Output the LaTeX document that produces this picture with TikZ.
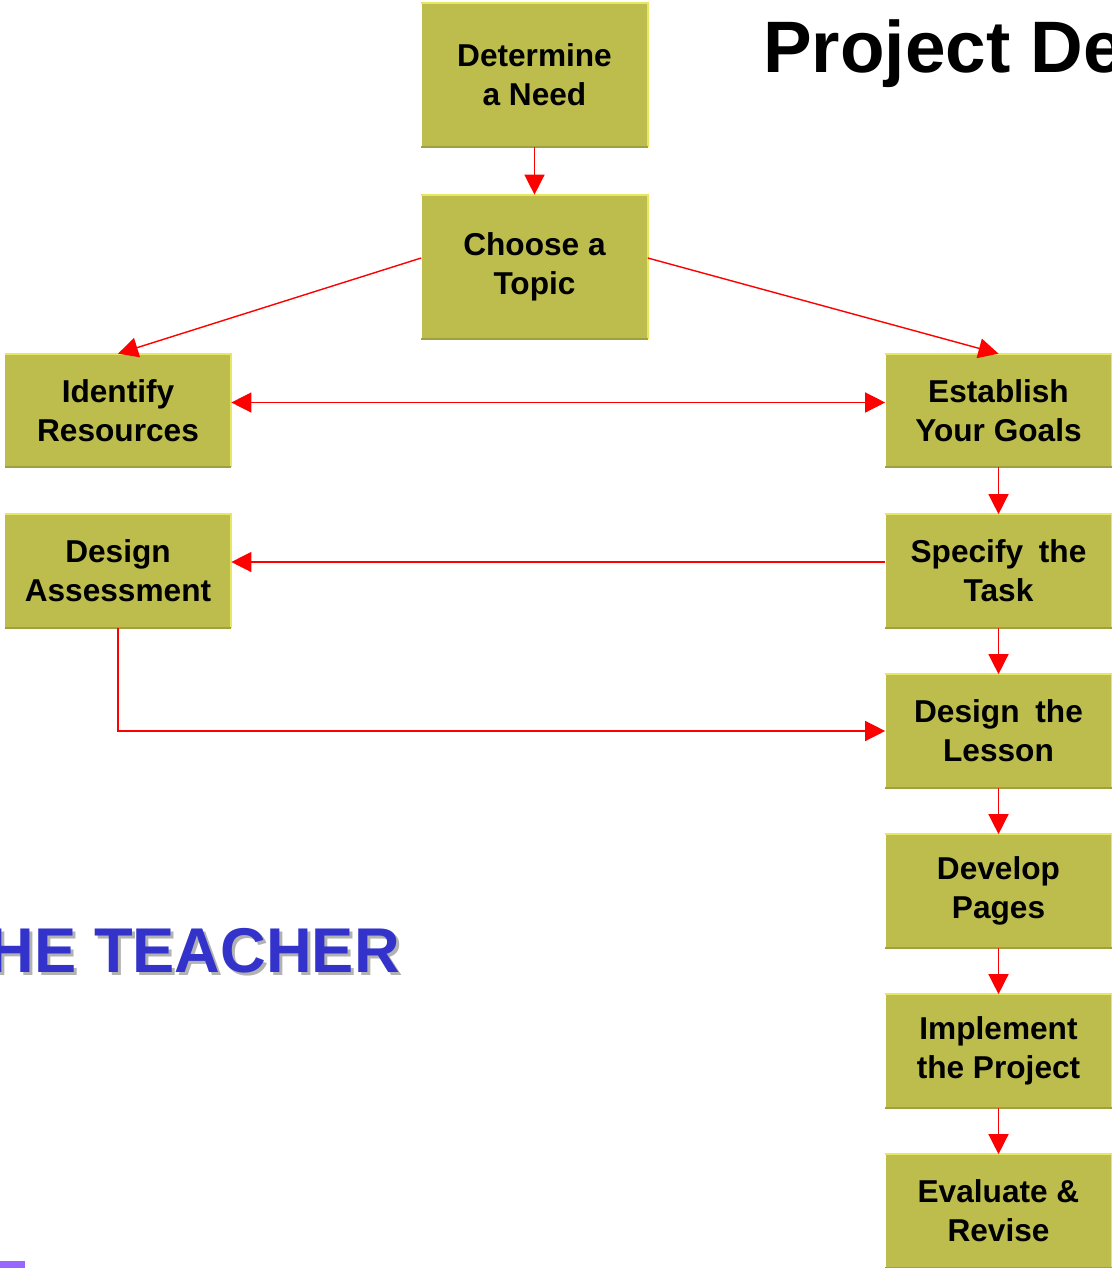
\documentclass[tikz,border=0pt]{standalone}
\usepackage{fontspec}
\setmainfont{Liberation Sans}
\usetikzlibrary{arrows.meta,calc}
\definecolor{boxfill}{RGB}{189,189,77}
\definecolor{boxlight}{RGB}{232,232,96}
\definecolor{boxdark}{RGB}{160,160,64}
\definecolor{teacherblue}{RGB}{51,51,204}
\definecolor{barpurple}{RGB}{153,102,255}
\tikzset{
	stepbox/.style={fill=boxfill, minimum width=4.52cm, minimum height=2.26cm, inner sep=0pt, align=center, font=\bfseries\fontsize{18}{22}\selectfont},
	tallbox/.style={stepbox, minimum height=2.88cm},
	link/.style={red, line width=0.8pt, -{Triangle[length=0.4cm,width=0.4cm]}},
	twolink/.style={link, {Triangle[length=0.4cm,width=0.4cm]}-{Triangle[length=0.4cm,width=0.4cm]}},
}

\begin{document}
\begin{tikzpicture}[x=0.02cm, y=-0.02cm]
			%%%%% START %%%%%
			
			\useasboundingbox (0, 0) rectangle (1112, 1268);
			\clip (0, 0) rectangle (1112, 1268);
			
			\node[anchor=base west, font=\bfseries\fontsize{41.5}{48}\selectfont] (title) at (757, 72) {Project De};
			
			\node[anchor=base east, text=black!30, font=\bfseries\fontsize{36}{42}\selectfont] (shadow) at (409, 975) {HE TEACHER};
			\node[anchor=base east, text=teacherblue, font=\bfseries\fontsize{36}{42}\selectfont] (teacher) at (406, 972) {HE TEACHER};
			
			\fill[barpurple] (0, 1261) rectangle (25, 1268);
			
			\node[tallbox] (need) at (534.5, 75) {Determine\\ a Need};
			\node[tallbox] (topic) at (534.5, 267) {Choose a\\ Topic};
			
			\node[stepbox] (resources) at (118, 410.5) {Identify\\ Resources};
			\node[stepbox] (assessment) at (118, 571) {Design\\ Assessment};
			
			\node[stepbox] (goals) at (998.5, 410.5) {Establish\\ Your Goals};
			\node[stepbox] (task) at (998.5, 571) {Specify\enspace the\\ Task};
			\node[stepbox] (lesson) at (998.5, 731) {Design\enspace the\\ Lesson};
			\node[stepbox] (pages) at (998.5, 891) {Develop\\ Pages};
			\node[stepbox] (implement) at (998.5, 1051) {Implement\\ the Project};
			\node[stepbox] (revise) at (998.5, 1211) {Evaluate \&\\ Revise};
			
			\foreach \b in {need, topic, resources, assessment, goals, task, lesson, pages, implement, revise} {
				\draw[boxlight, line width=1.1pt] (\b.north west) -- (\b.north east) -- (\b.south east);
				\draw[boxdark, line width=1.1pt] (\b.south west) -- (\b.south east);
			}
			
			\draw[link] (need) -- (topic);
			\draw[link] ($(topic.west)+(0, -9)$) -- (resources.north);
			\draw[link] ($(topic.east)+(0, -9)$) -- (goals.north);
			\draw[twolink] ($(resources.east)+(0, -8)$) -- ($(goals.west)+(0, -8)$);
			\draw[link] (goals) -- (task);
			\draw[link] ($(task.west)+(0, -9)$) -- ($(assessment.east)+(0, -9)$);
			\draw[link] (assessment.south) |- (lesson.west);
			\draw[link] (task) -- (lesson);
			\draw[link] (lesson) -- (pages);
			\draw[link] (pages) -- (implement);
			\draw[link] (implement) -- (revise);
			
			%%%%% END %%%%%
\end{tikzpicture}
\end{document}
